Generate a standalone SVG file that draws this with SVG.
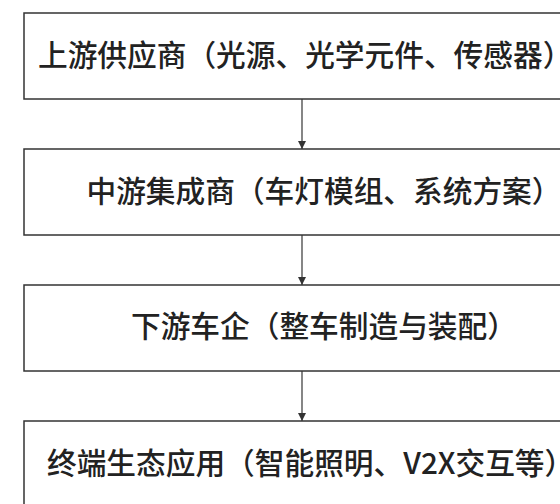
<svg xmlns="http://www.w3.org/2000/svg" width="560" height="504" viewBox="0 0 560 504">
<style>
.box{fill:#ffffff;stroke:#333333;stroke-width:1.5}
.lbl{font-family:"Noto Sans CJK SC","Noto Sans",sans-serif;font-size:29.7px;font-weight:500;fill:#222222}
.edge{stroke:#444444;stroke-width:1.3;fill:none}
</style>
<defs>
<marker id="arr" viewBox="0 0 10 10" refX="10" refY="5" markerWidth="8" markerHeight="8" markerUnits="userSpaceOnUse" orient="auto">
<path d="M0,0 L10,5 L0,10 Z" fill="#333333"/>
</marker>
</defs>
<rect width="560" height="504" fill="#ffffff"/>
<g id="connectors">
<line class="edge" x1="302" y1="99" x2="302" y2="149" marker-end="url(#arr)"/>
<line class="edge" x1="302" y1="235" x2="302" y2="285" marker-end="url(#arr)"/>
<line class="edge" x1="302" y1="371" x2="302" y2="421" marker-end="url(#arr)"/>
</g>
<g id="upstream">
<rect class="box" x="24" y="13" width="556" height="86"/>
<text class="lbl" x="38" y="65.5">上游供应商（光源、光学元件、传感器）</text>
</g>
<g id="midstream">
<rect class="box" x="24" y="149" width="556" height="86"/>
<text class="lbl" x="86.5" y="202">中游集成商（车灯模组、系统方案）</text>
</g>
<g id="downstream">
<rect class="box" x="24" y="285" width="556" height="86"/>
<text class="lbl" x="131" y="337">下游车企（整车制造与装配）</text>
</g>
<g id="terminal">
<rect class="box" x="24" y="421" width="556" height="86"/>
<text class="lbl" x="47" y="474">终端生态应用（智能照明、V2X交互等）</text>
</g>
</svg>
